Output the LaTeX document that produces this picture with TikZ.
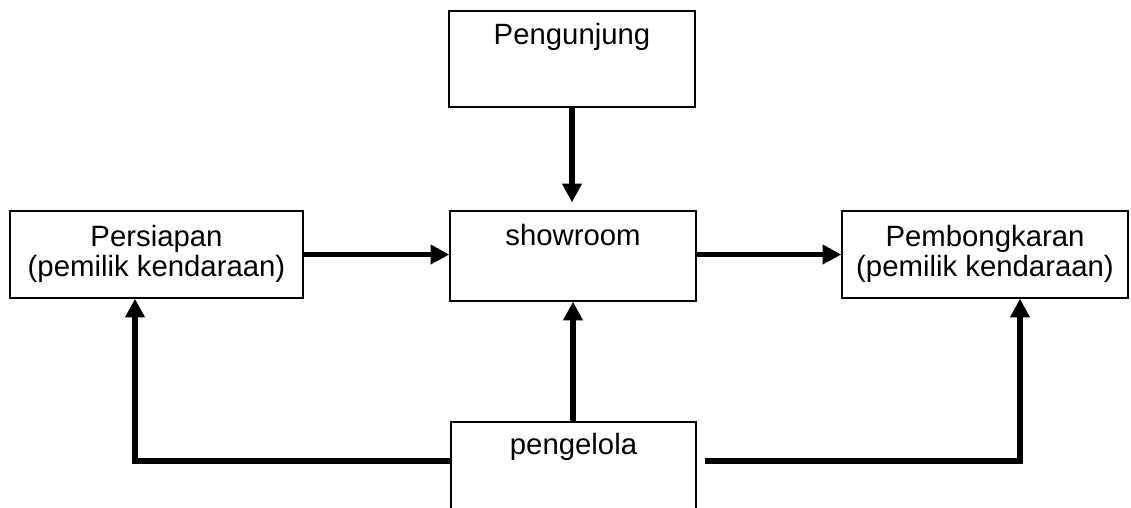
\documentclass[tikz,border=0pt]{standalone}
\usepackage{fontspec}
\setmainfont{Liberation Sans}
\usetikzlibrary{arrows.meta,calc}

\begin{document}
\begin{tikzpicture}[x=0.75pt,y=-0.75pt,
  box/.style={draw, line width=1pt, inner sep=0pt},
  lbl/.style={font=\fontsize{22}{22.5}\selectfont, align=center, anchor=base, inner sep=0pt},
  flow/.style={line width=4pt, -{Triangle[length=14pt,width=14pt]}},
]
\useasboundingbox (0,0) rectangle (1131,507);
\clip (0,0) rectangle (1131,507);

% boxes
\node[box, minimum width=184.5pt, minimum height=72pt]   (pengunjung) at (572,59) {};
\node[box, minimum width=219.75pt, minimum height=65.25pt] (persiapan) at (156.5,254.5) {};
\node[box, minimum width=184.5pt, minimum height=67.5pt] (showroom) at (573,256) {};
\node[box, minimum width=214.5pt, minimum height=65.25pt] (bongkar) at (985,254.5) {};
\node[box, minimum width=183.75pt, minimum height=88.5pt] (pengelola) at (573.5,481) {};

% labels (base anchor sits on the last line)
\node[lbl] (tpengunjung) at ($(pengunjung.north)+(0,34)$) {Pengunjung};
\node[lbl] (tpersiapan) at ($(persiapan.north)+(0,66)$) {Persiapan\\(pemilik kendaraan)};
\node[lbl] (tshowroom) at ($(showroom.north)+(0,35)$) {showroom};
\node[lbl] (tbongkar) at ($(bongkar.north)+(0,66)$) {Pembongkaran\\(pemilik kendaraan)};
\node[lbl] (tpengelola) at ($(pengelola.north)+(0,33)$) {pengelola};

% bends of the lower connectors
\coordinate (lcorner) at (135,461);
\coordinate (rcorner) at (1020,461);
\coordinate (rstart) at (705,461);

% connectors
\draw[flow, shorten >=6pt] (pengunjung.south) -- (pengunjung.south |- showroom.north);
\draw[flow] (persiapan.east) -- (persiapan.east -| showroom.west);
\draw[flow] (bongkar.west -| showroom.east) -- (bongkar.west);
\draw[flow] (showroom.south |- pengelola.north) -- (showroom.south);
\draw[flow] (pengelola.west |- lcorner) -- (lcorner) -- (lcorner |- persiapan.south);
\draw[flow] (rstart) -- (rcorner) -- (rcorner |- bongkar.south);
\end{tikzpicture}
\end{document}
